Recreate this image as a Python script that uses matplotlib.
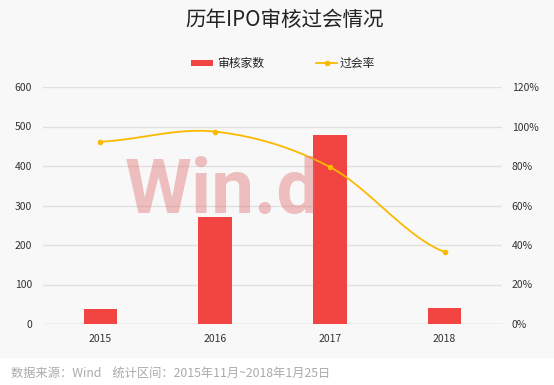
import numpy as np
import matplotlib
matplotlib.use("Agg")
import matplotlib.pyplot as plt
from matplotlib.patches import Rectangle
from matplotlib.lines import Line2D

plt.rcParams['font.family'] = ['Noto Sans CJK SC', 'DejaVu Sans']

years = ["2015", "2016", "2017", "2018"]
counts = [39, 272, 479, 40]           # 审核家数
pass_rate = [92.3, 97.4, 79.5, 36.5]  # 过会率 %

bar_color = "#f24440"
line_color = "#fbb900"

W, H = 554, 385
fig = plt.figure(figsize=(W / 100, H / 100), dpi=100)
fig.patch.set_facecolor("white")
# 灰色背景面板
fig.patches.append(Rectangle((0, 1 - 358 / H), 1, 358 / H, transform=fig.transFigure,
                             facecolor="#f8f8f8", edgecolor="none", zorder=-10))

ax = fig.add_axes([43 / W, 1 - 324 / H, 459 / W, 237 / H])
ax.set_facecolor("none")
ax2 = ax.twinx()

x = np.arange(len(years))
ax.bar(x, counts, width=0.29, color=bar_color, zorder=3)
ax.set_xlim(-0.5, 3.5)
ax.set_ylim(0, 600)
ax.set_yticks(np.arange(0, 601, 100))
ax.set_xticks(x)
ax.set_xticklabels(years)
ax.grid(axis="y", color="#e0e0e0", linewidth=1, zorder=0)
ax.set_axisbelow(True)

# 平滑曲线 (Catmull-Rom)
px = np.array(x, dtype=float)
py = np.array(pass_rate, dtype=float)
ext_x = np.concatenate([[2 * px[0] - px[1]], px, [2 * px[-1] - px[-2]]])
ext_y = np.concatenate([[py[0]], py, [py[-1]]])
sx, sy = [], []
t = np.linspace(0, 1, 40)
for i in range(1, len(ext_x) - 2):
    p0, p1, p2, p3 = [np.array([ext_x[j], ext_y[j]]) for j in range(i - 1, i + 3)]
    m1 = (p2 - p0) / 2
    m2 = (p3 - p1) / 2
    h00 = 2 * t**3 - 3 * t**2 + 1
    h10 = t**3 - 2 * t**2 + t
    h01 = -2 * t**3 + 3 * t**2
    h11 = t**3 - t**2
    seg = np.outer(h00, p1) + np.outer(h10, m1) + np.outer(h01, p2) + np.outer(h11, m2)
    sx.extend(seg[:, 0])
    sy.extend(seg[:, 1])
ax2.plot(sx, sy, color=line_color, linewidth=1.3, zorder=4)
ax2.plot(px, py, "o", color=line_color, markersize=3, zorder=5)
ax2.set_ylim(0, 120)
ax2.set_yticks(np.arange(0, 121, 20))
ax2.set_yticklabels([f"{v}%" for v in range(0, 121, 20)])

for a in (ax, ax2):
    for s in a.spines.values():
        s.set_visible(False)
    a.tick_params(length=0, labelsize=7.5, colors="#333333")
ax.tick_params(axis="y", pad=8)
ax2.tick_params(axis="y", pad=7)
ax.tick_params(axis="x", pad=7)
ax.axhline(0, color="#dddddd", linewidth=1, zorder=2)

# 水印
fig.text(125 / W, 1 - 213 / H, "Win.d", fontsize=55, fontweight="bold",
         color="#e06060", alpha=0.38, family="Roboto", zorder=10)

fig.text(285 / W, 1 - 20 / H, "历年IPO审核过会情况", ha="center", va="center",
         fontsize=14.8, color="#222222")

# 图例
ly = 1 - 63 / H
fig.patches.append(Rectangle((191 / W, ly - 3 / H), 22 / W, 6 / H, transform=fig.transFigure,
                             facecolor=bar_color, edgecolor="none"))
fig.text(217 / W, ly, "审核家数", ha="left", va="center", fontsize=8.5, color="#222222")
fig.lines.append(Line2D([316 / W, 337 / W], [ly, ly], transform=fig.transFigure,
                        color=line_color, linewidth=1.3))
fig.lines.append(Line2D([327 / W], [ly], transform=fig.transFigure, marker="o",
                        markersize=3, color=line_color))
fig.text(340 / W, ly, "过会率", ha="left", va="center", fontsize=8.5, color="#222222")

fig.text(11 / W, 1 - 373 / H, "数据来源：Wind    统计区间：2015年11月~2018年1月25日",
         ha="left", va="center", fontsize=8.8, color="#aaaaaa")

fig.savefig("out.png", dpi=100, facecolor=fig.get_facecolor())
